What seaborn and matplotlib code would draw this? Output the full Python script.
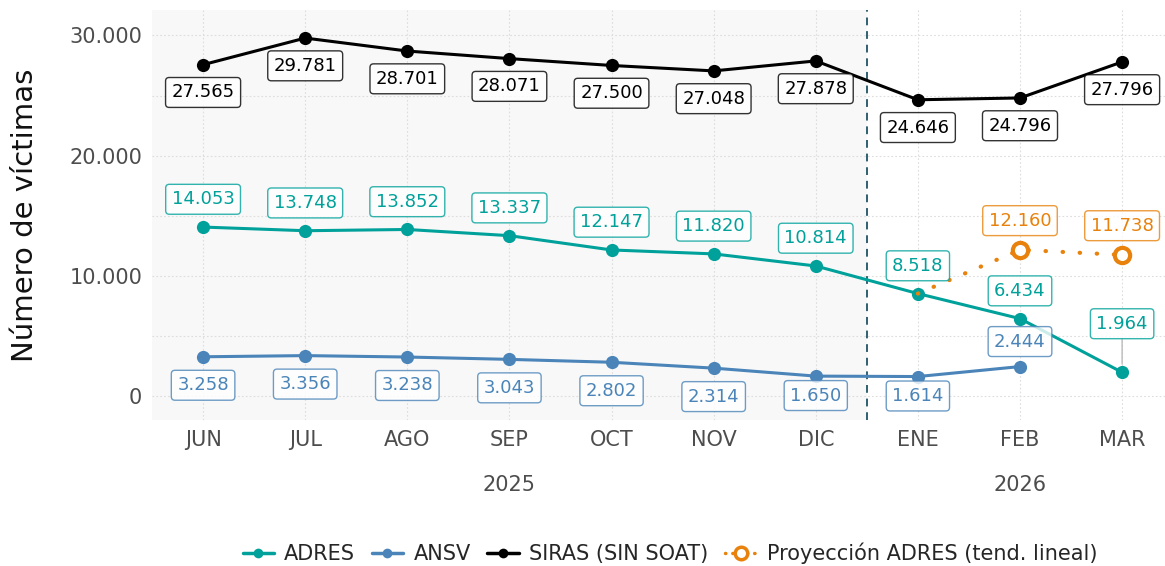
import matplotlib
matplotlib.use("Agg")
import matplotlib.pyplot as plt
import matplotlib.transforms as mtransforms
from matplotlib.lines import Line2D
import seaborn as sns
import pandas as pd

# datos
meses = ["JUN", "JUL", "AGO", "SEP", "OCT", "NOV", "DIC", "ENE", "FEB", "MAR"]
anios = ["2025", "2026"]
adres = [14053, 13748, 13852, 13337, 12147, 11820, 10814, 8518, 6434, 1964]
ansv = [3258, 3356, 3238, 3043, 2802, 2314, 1650, 1614, 2444, None]
siras = [27565, 29781, 28701, 28071, 27500, 27048, 27878, 24646, 24796, 27796]
proy_meses = ["ENE", "FEB", "MAR"]
proy_adres = [8518, 12160, 11738]

colores = {"ADRES": "#00A19A", "ANSV": "#4A84B8", "SIRAS (SIN SOAT)": "#000000"}
c_proy = "#E8820C"


def fmt(v):
    return f"{v:,.0f}".replace(",", ".")


rows = []
for serie, vals in [("ADRES", adres), ("ANSV", ansv), ("SIRAS (SIN SOAT)", siras)]:
    for i, v in enumerate(vals):
        if v is not None:
            rows.append({"idx": i, "mes": meses[i], "serie": serie, "valor": v})
df = pd.DataFrame(rows)

sns.set_theme(style="white")
plt.rcParams["font.family"] = ["DejaVu Sans"]

fig = plt.figure(figsize=(11.65, 5.66), dpi=100)
ax = fig.add_axes([0.1305, 0.258, 0.8695, 0.724])

ax.axvspan(-0.5, 6.5, color="#f8f8f8", zorder=0, lw=0)
ax.axvline(6.5, color="#2F6070", ls=(0, (4, 3)), lw=1.4, zorder=1)

sns.lineplot(data=df, x="idx", y="valor", hue="serie", palette=colores,
             marker="o", markersize=9.5, markeredgewidth=0, linewidth=2.2,
             legend=False, ax=ax, zorder=3)

# proyeccion (punteada, encima de los puntos)
px = [meses.index(m) for m in proy_meses]
ax.plot(px, proy_adres, color=c_proy, ls=(0, (0.1, 4)), lw=3, zorder=4,
        dash_capstyle="round")
ax.plot(px[1:], proy_adres[1:], ls="none", marker="o", markersize=11,
        markerfacecolor="white", markeredgecolor=c_proy, markeredgewidth=3, zorder=5)


def etiqueta(x, y, color, dy, leader=False):
    ax.annotate(fmt(y), (x, y), xytext=(0, dy), textcoords="offset points",
                ha="center", va="center", fontsize=13, color=color, zorder=6,
                bbox=dict(boxstyle="round,pad=0.33,rounding_size=0.2", fc="white",
                          ec=color, lw=1, alpha=0.8),
                arrowprops=dict(arrowstyle="-", color="#bbbbbb", lw=1,
                                shrinkA=0, shrinkB=6) if leader else None)


for i, v in enumerate(siras):
    etiqueta(i, v, "#000000", -20)
for i, v in enumerate(adres):
    if i == 9:
        etiqueta(i, v, colores["ADRES"], 35, leader=True)
    else:
        etiqueta(i, v, colores["ADRES"], 20)
for i, v in enumerate(ansv):
    if v is None:
        continue
    if i == 8:
        dy = 18
    elif i in (6, 7):
        dy = -14
    else:
        dy = -20.5
    etiqueta(i, v, colores["ANSV"], dy)
for x, v in zip(px[1:], proy_adres[1:]):
    etiqueta(x, v, c_proy, 21)

ax.set_xlim(-0.5, 9.42)
ax.set_ylim(-2000, 32100)
ax.set_xticks(range(len(meses)))
ax.set_xticklabels(meses)
ax.set_yticks([0, 10000, 20000, 30000])
ax.set_yticklabels([fmt(t) for t in [0, 10000, 20000, 30000]])
ax.set_yticks([5000, 15000, 25000], minor=True)
ax.tick_params(axis="both", labelsize=15, colors="#4d4d4d", length=0, pad=7)
ax.grid(True, which="both", color="#dddddd", ls=(0, (1.5, 2)), lw=0.8)
ax.set_axisbelow(True)
for s in ax.spines.values():
    s.set_visible(False)
ax.set_xlabel("")
ax.set_ylabel("Número de víctimas", fontsize=21, color="#111111", labelpad=22)

trans = mtransforms.blended_transform_factory(ax.transData, ax.transAxes)
ax.text(3, -0.159, anios[0], transform=trans, ha="center", va="center",
        fontsize=15, color="#4d4d4d")
ax.text(8, -0.159, anios[1], transform=trans, ha="center", va="center",
        fontsize=15, color="#4d4d4d")

handles = [Line2D([], [], color=colores[k], marker="o", markersize=7, lw=2.5,
                  markeredgewidth=0) for k in colores]
handles.append(Line2D([], [], color=c_proy, ls=(0, (0.1, 2)), lw=2.5, marker="o",
                      markersize=9, markerfacecolor="white", markeredgewidth=2.5,
                      dash_capstyle="round"))
labels = list(colores.keys()) + ["Proyección ADRES (tend. lineal)"]
fig.legend(handles, labels, loc="center", bbox_to_anchor=(0.575, 0.022), ncol=4,
           frameon=False, fontsize=15, handlelength=1.5, handletextpad=0.5,
           columnspacing=0.8)

fig.savefig("out.png", dpi=100)
